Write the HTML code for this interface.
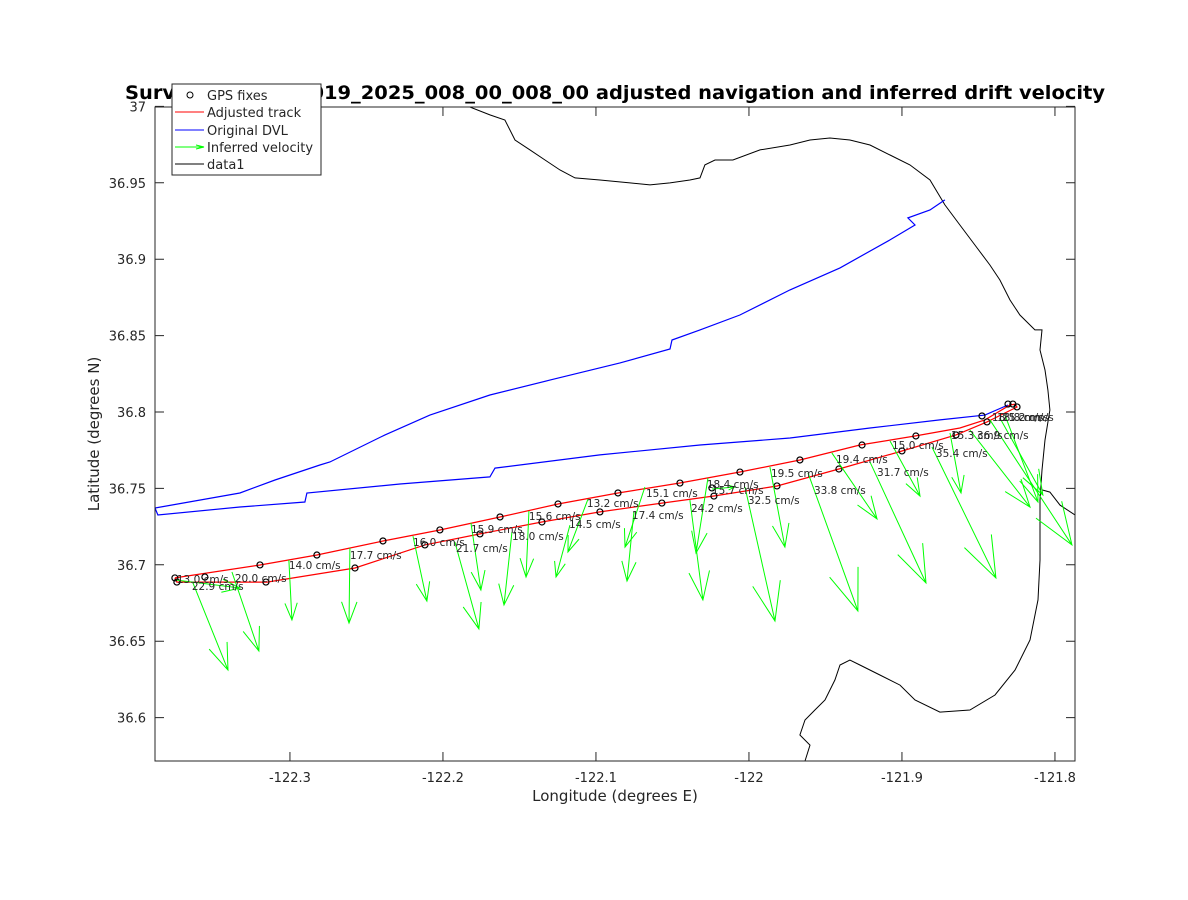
<!DOCTYPE html>
<html><head><meta charset="utf-8"><style>
body{margin:0;background:#fff;}
svg{display:block;font-family:"DejaVu Sans","Liberation Sans",sans-serif;}
</style></head><body>
<svg id="chart" width="1188" height="900" viewBox="0 0 1188 900">
<defs><clipPath id="clip"><rect x="155" y="107" width="920" height="654"/></clipPath></defs>
<rect x="0" y="0" width="1188" height="900" fill="#fff"/>
<rect x="155" y="107" width="920" height="654" fill="#fff"/>
<g id="plot" clip-path="url(#clip)"></g>
<g id="axes"></g>
<text x="125" y="99" font-size="19" font-weight="bold" fill="#000" textLength="980" lengthAdjust="spacingAndGlyphs">Survey Dorado_2019_2025_008_00_008_00 adjusted navigation and inferred drift velocity</text>
<text x="615" y="801" font-size="15" fill="#262626" text-anchor="middle">Longitude (degrees E)</text>
<text transform="translate(99,434) rotate(-90)" font-size="15" fill="#262626" text-anchor="middle">Latitude (degrees N)</text>
<g>
<rect x="172" y="84" width="149" height="91" fill="#fff" stroke="#262626" stroke-width="1"/>
<g><circle cx="190" cy="95" r="3" fill="none" stroke="#000"/><text x="207" y="100" font-size="13" fill="#262626">GPS fixes</text></g>
<g><line x1="175" y1="112" x2="204" y2="112" stroke="#f00"/><text x="207" y="117" font-size="13" fill="#262626">Adjusted track</text></g>
<g><line x1="175" y1="130" x2="204" y2="130" stroke="#00f"/><text x="207" y="135" font-size="13" fill="#262626">Original DVL</text></g>
<g><line x1="175" y1="147" x2="204" y2="147" stroke="#0f0"/><polyline points="196,145 204,147 196,149" fill="none" stroke="#0f0"/><text x="207" y="152" font-size="13" fill="#262626">Inferred velocity</text></g>
<g><line x1="175" y1="164" x2="204" y2="164" stroke="#000"/><text x="207" y="169" font-size="13" fill="#262626">data1</text></g>
</g>
</svg>
<script>
const xTicks=[-122.3,-122.2,-122.1,-122,-121.9,-121.8];
const xTickLabels=['-122.3','-122.2','-122.1','-122','-121.9','-121.8'];
const yTicks=[36.6,36.65,36.7,36.75,36.8,36.85,36.9,36.95,37];
const yTickLabels=['36.6','36.65','36.7','36.75','36.8','36.85','36.9','36.95','37'];
const coastLon=[-122.1824,-122.1693,-122.1595,-122.1529,-122.1431,-122.1333,-122.1235,-122.1137,-122.0974,-122.0778,-122.0647,-122.0516,-122.0386,-122.032,-122.0288,-122.0222,-122.0105,-121.9928,-121.9732,-121.9601,-121.9471,-121.934,-121.9209,-121.9078,-121.8948,-121.8817,-121.8719,-121.8621,-121.8523,-121.8425,-121.836,-121.8294,-121.8229,-121.8131,-121.8085,-121.8098,-121.8065,-121.8046,-121.8033,-121.8065,-121.8085,-121.8098,-121.8098,-121.8098,-121.8111,-121.8163,-121.8261,-121.8392,-121.8556,-121.8752,-121.8915,-121.9013,-121.9144,-121.9275,-121.934,-121.9405,-121.9438,-121.9503,-121.9569,-121.9634,-121.9667,-121.9601,-121.9634];
const coastLat=[36.9996,36.9944,36.9911,36.978,36.9715,36.9649,36.9584,36.9532,36.9518,36.9499,36.9486,36.9499,36.9518,36.9532,36.9617,36.9649,36.9649,36.9715,36.9747,36.978,36.9793,36.978,36.9747,36.9682,36.9617,36.9518,36.9355,36.9224,36.9093,36.8962,36.8864,36.8733,36.8635,36.8537,36.8537,36.8406,36.8275,36.8144,36.8013,36.7817,36.762,36.7424,36.7228,36.7031,36.677,36.6508,36.6311,36.6148,36.605,36.6036,36.6115,36.6213,36.6279,36.6344,36.6377,36.6344,36.6246,36.6115,36.605,36.5984,36.5886,36.582,36.5716];
const sloughLon=[-121.8085,-121.8033,-121.7967,-121.7869];
const sloughLat=[36.749,36.7476,36.7391,36.7326];
const dvl1Lon=[-122.3882,-122.3327,-122.3098,-122.2804,-122.2739,-122.2379,-122.2085,-122.1693,-122.1301,-122.0843,-122.0516,-122.0503,-122.032,-122.0059,-121.9732,-121.9405,-121.9078,-121.8915,-121.8961,-121.8817,-121.8719];
const dvl1Lat=[36.7372,36.747,36.7555,36.7653,36.7673,36.785,36.798,36.8111,36.8209,36.8321,36.8412,36.8471,36.8537,36.8635,36.8799,36.8943,36.9126,36.9224,36.927,36.9322,36.9388];
const dvl2Lon=[-122.3882,-122.3863,-122.3327,-122.2902,-122.2889,-122.2281,-122.1693,-122.166,-122.0974,-122.032,-121.9732,-121.9209,-121.8752,-121.8458,-121.8307];
const dvl2Lat=[36.7372,36.7326,36.7378,36.7411,36.747,36.7529,36.7575,36.7633,36.7719,36.7784,36.783,36.7895,36.7948,36.798,36.8046];
const adjLon=[-122.3752,-122.3196,-122.2824,-122.2392,-122.202,-122.1627,-122.1248,-122.0856,-122.0451,-122.0059,-121.9667,-121.9275,-121.8915,-121.8621,-121.8458,-121.8294,-121.8261,-121.8248,-121.8444,-121.8647,-121.9,-121.9412,-121.9817,-122.0229,-122.0569,-122.0974,-122.1353,-122.1758,-122.2118,-122.2575,-122.315,-122.3739,-122.3752];
const adjLat=[36.6914,36.6999,36.7064,36.7156,36.7228,36.7313,36.7398,36.747,36.7535,36.7607,36.7686,36.7784,36.7843,36.7895,36.7948,36.8046,36.8052,36.8033,36.7935,36.785,36.7745,36.7627,36.7516,36.745,36.7404,36.7346,36.728,36.7202,36.713,36.6979,36.6887,36.6887,36.6914];
const gpsLon=[-122.3752,-122.3556,-122.3196,-122.2824,-122.2392,-122.202,-122.1627,-122.1248,-122.0856,-122.0451,-122.0059,-121.9667,-121.9261,-121.8909,-121.8477,-121.8307,-121.8275,-121.8248,-121.8444,-121.8647,-121.9,-121.9412,-121.9817,-122.0229,-122.0242,-122.0569,-122.0974,-122.1353,-122.1758,-122.2118,-122.2575,-122.3157,-122.3739];
const gpsLat=[36.6914,36.692,36.6999,36.7064,36.7156,36.7228,36.7313,36.7398,36.747,36.7535,36.7607,36.7686,36.7784,36.7843,36.7974,36.8052,36.8052,36.8033,36.7935,36.785,36.7745,36.7627,36.7516,36.745,36.7503,36.7404,36.7346,36.728,36.7202,36.713,36.6979,36.6887,36.6887];
const velLon0=[-122.3634,-122.3739,-122.3379,-122.3007,-122.2608,-122.2196,-122.1922,-122.1817,-122.1549,-122.1438,-122.1052,-122.117,-122.068,-122.0752,-122.0268,-122.0242,-122.0386,-122.0026,-121.9863,-121.9614,-121.9458,-121.9209,-121.9078,-121.8804,-121.8686,-121.8556,-121.8327,-121.8425,-121.836];
const velLat0=[36.6881,36.69,36.6953,36.7031,36.711,36.7188,36.7149,36.7274,36.7215,36.7352,36.743,36.726,36.7509,36.7346,36.7568,36.7496,36.7424,36.7509,36.764,36.7601,36.7732,36.7673,36.781,36.7771,36.7863,36.7882,36.798,36.7948,36.7961];
const velLon1=[-122.3405,-122.3327,-122.3203,-122.2987,-122.2614,-122.2105,-122.1765,-122.1752,-122.1601,-122.1457,-122.1183,-122.1261,-122.081,-122.0797,-122.0346,-122.0092,-122.0301,-121.983,-121.9765,-121.9288,-121.9163,-121.8843,-121.8882,-121.8386,-121.8614,-121.8163,-121.8111,-121.7889,-121.8079];
const velLat1=[36.6311,36.6848,36.6436,36.6639,36.6619,36.6763,36.658,36.6835,36.6737,36.692,36.7084,36.692,36.7116,36.6894,36.7077,36.7509,36.677,36.6632,36.7116,36.6698,36.73,36.6881,36.745,36.6914,36.747,36.7378,36.7411,36.713,36.7457];
const velLabels=['22.9 cm/s','13.0 cm/s','20.0 cm/s','14.0 cm/s','17.7 cm/s','16.0 cm/s','21.7 cm/s','15.9 cm/s','18.0 cm/s','15.6 cm/s','13.2 cm/s','14.5 cm/s','15.1 cm/s','17.4 cm/s','18.4 cm/s','15.7 cm/s','24.2 cm/s','32.5 cm/s','19.5 cm/s','33.8 cm/s','19.4 cm/s','31.7 cm/s','15.0 cm/s','35.4 cm/s','15.3 cm/s','36.9 cm/s','18.1 cm/s','25.2 cm/s','18.8 cm/s'];
const labLon=[-122.3641,-122.3739,-122.336,-122.3007,-122.2608,-122.2196,-122.1915,-122.1817,-122.1549,-122.1438,-122.1059,-122.1176,-122.0673,-122.0765,-122.0275,-122.0242,-122.0379,-122.0007,-121.9856,-121.9575,-121.9431,-121.9163,-121.9065,-121.8778,-121.868,-121.851,-121.8412,-121.8346,-121.8379];
const labLat=[36.6835,36.6881,36.6887,36.6972,36.7038,36.7123,36.7084,36.7208,36.7162,36.7293,36.7378,36.7241,36.7444,36.73,36.7503,36.7463,36.7346,36.7398,36.7575,36.7463,36.7666,36.7581,36.7758,36.7706,36.7823,36.7823,36.7941,36.7941,36.7941];

const X0=155,X1=1075,Y0=107,Y1=761,LON0=-122.3882,LON1=-121.7869,LAT0=36.5716,LAT1=36.9996;
const sx=v=>X0+(v-LON0)/(LON1-LON0)*(X1-X0);
const sy=v=>Y1-(v-LAT0)/(LAT1-LAT0)*(Y1-Y0);
const NS='http://www.w3.org/2000/svg';
const plot=document.getElementById('plot'),axes=document.getElementById('axes');
function mk(tag,attrs,parent){const e=document.createElementNS(NS,tag);for(const k in attrs)e.setAttribute(k,attrs[k]);parent.appendChild(e);return e;}
function pts(lo,la){return lo.map((v,i)=>sx(v).toFixed(1)+','+sy(la[i]).toFixed(1)).join(' ');}

let e;
e=mk('polyline',{points:pts(coastLon,coastLat),fill:'none',stroke:'#000','stroke-width':1},plot);


e=mk('polyline',{points:pts(sloughLon,sloughLat),fill:'none',stroke:'#000','stroke-width':1},plot);


e=mk('polyline',{points:pts(dvl1Lon,dvl1Lat),fill:'none',stroke:'#00f','stroke-width':1.2},plot);


e=mk('polyline',{points:pts(dvl2Lon,dvl2Lat),fill:'none',stroke:'#00f','stroke-width':1.2},plot);


e=mk('polyline',{points:pts(adjLon,adjLat),fill:'none',stroke:'#f00','stroke-width':1.2},plot);


for(let i=0;i<gpsLon.length;i++){
  e=mk('circle',{cx:sx(gpsLon[i]),cy:sy(gpsLat[i]),r:3,fill:'none',stroke:'#000','stroke-width':1.2},plot);
  
  
}
for(let i=0;i<velLon0.length;i++){
  const x0=sx(velLon0[i]),y0=sy(velLat0[i]),x1=sx(velLon1[i]),y1=sy(velLat1[i]);
  const dx=x1-x0,dy=y1-y0,L=Math.hypot(dx,dy),h=L*0.3,a=Math.atan2(dy,dx),t=0.35;
  const ax=x1-h*Math.cos(a-t),ay=y1-h*Math.sin(a-t),bx=x1-h*Math.cos(a+t),by=y1-h*Math.sin(a+t);
  e=mk('path',{d:`M${x0},${y0}L${x1},${y1}M${ax},${ay}L${x1},${y1}L${bx},${by}`,fill:'none',stroke:'#0f0','stroke-width':1},plot);
  
  
}
for(let i=0;i<velLabels.length;i++){
  e=mk('text',{x:sx(labLon[i]),y:sy(labLat[i]),'font-size':10.5,fill:'#262626'},plot);
  e.textContent=velLabels[i];
  
  
}
e=mk('rect',{x:X0,y:Y0,width:X1-X0,height:Y1-Y0,fill:'none',stroke:'#262626','stroke-width':1},axes);


xTicks.forEach((v,i)=>{
  const x=sx(v);
  e=mk('path',{d:`M${x},${Y1}V${Y1-9}M${x},${Y0}V${Y0+9}`,stroke:'#262626'},axes);
  
  
  e=mk('text',{x:x,y:Y1+21,'font-size':13,fill:'#262626','text-anchor':'middle'},axes);
  e.textContent=xTickLabels[i];
  
  
});
yTicks.forEach((v,i)=>{
  const y=sy(v);
  e=mk('path',{d:`M${X0},${y}H${X0+9}M${X1},${y}H${X1-9}`,stroke:'#262626'},axes);
  
  
  e=mk('text',{x:X0-9,y:y+5,'font-size':13,fill:'#262626','text-anchor':'end'},axes);
  e.textContent=yTickLabels[i];
  
  
});
</script>
</body></html>
